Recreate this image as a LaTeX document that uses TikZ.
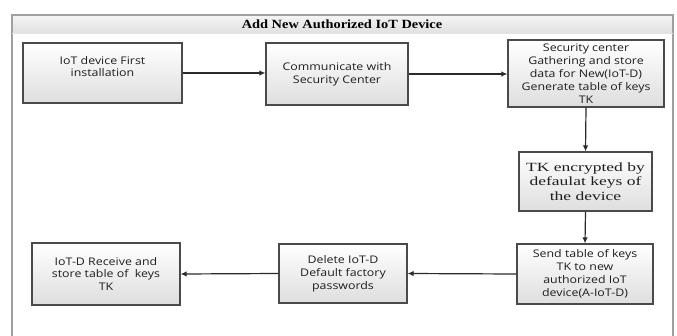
\documentclass[tikz,border=0pt]{standalone}
\usepackage{fontspec}
\setmainfont{Liberation Serif}
\newfontfamily\boxfont{Open Sans}[FakeStretch=1.18]
\newfontfamily\serifbox{Liberation Serif}[FakeStretch=1.4]
\newfontfamily\titlefont{Liberation Serif}[FakeStretch=1.15]
\usetikzlibrary{arrows.meta}
\definecolor{boxline}{HTML}{4A4A4A}
\definecolor{frameline}{HTML}{A0A0A0}
\definecolor{arrowc}{HTML}{2A2A2A}
\definecolor{txt}{HTML}{1E1E1E}
\tikzset{
  stepbox/.style={draw=boxline, line width=1.2pt, top color=white, bottom color=black!13,
    align=center, inner sep=2pt, text=txt, font=\boxfont\fontsize{10.5}{12.9}\selectfont},
  serifstep/.style={stepbox, font=\serifbox\fontsize{12.5}{14.6}\selectfont},
  flow/.style={draw=arrowc, line width=1.2pt, -{Latex[length=6pt,width=5.5pt]}},
}
\begin{document}
\begin{tikzpicture}[x=1pt,y=-1pt]
\useasboundingbox (0,0) rectangle (677,335);
% frame
\shade[top color=black!4, bottom color=black!12] (12,15) rectangle (673,33);
\draw[frameline, line width=1.5pt] (12,336) -- (12,15) -- (673,15) -- (673,336);
\draw[black!10, line width=0.8pt] (12,33) -- (673,33);
\node[font=\titlefont\bfseries\fontsize{12.5}{14}\selectfont, text=black] (title) at (342,24.5) {Add New Authorized IoT Device};
% boxes
\node[stepbox, minimum width=159pt, minimum height=60pt] (b1) at (102.5,73) {IoT device First\\installation\\\mbox{}};
\node[stepbox, minimum width=142pt, minimum height=62pt] (b2) at (337,74) {Communicate with\\Security Center};
\node[stepbox, minimum width=156pt, minimum height=67pt] (b3) at (586,73.5) {Security center\\Gathering and store\\data for New(IoT-D)\\Generate table of keys\\TK};
\node[serifstep, minimum width=133pt, minimum height=59pt] (b4) at (585.5,181.5) {TK encrypted by\\defaulat keys of\\the device};
\node[stepbox, minimum width=136pt, minimum height=60pt] (b5) at (585,274) {Send table of keys\\TK to new\\authorized IoT\\device(A-IoT-D)};
\node[stepbox, minimum width=128pt, minimum height=59pt] (b6) at (343,273.5) {Delete IoT-D\\Default factory\\passwords};
\node[stepbox, minimum width=148pt, minimum height=62pt] (b7) at (106,274) {IoT-D Receive and\\store table of \ keys\\TK};
% connectors
\draw[flow] (b1.east) -- (b2.west |- b1.east);
\draw[flow] (b2.east) -- (b3.west |- b2.east);
\draw[flow] (b3.south) -- (b4.north);
\draw[flow] (b4.south) -- (b5.north);
\draw[flow] (b5.west) -- (b6.east);
\draw[flow] (b6.west) -- (b7.east);
\end{tikzpicture}
\end{document}
